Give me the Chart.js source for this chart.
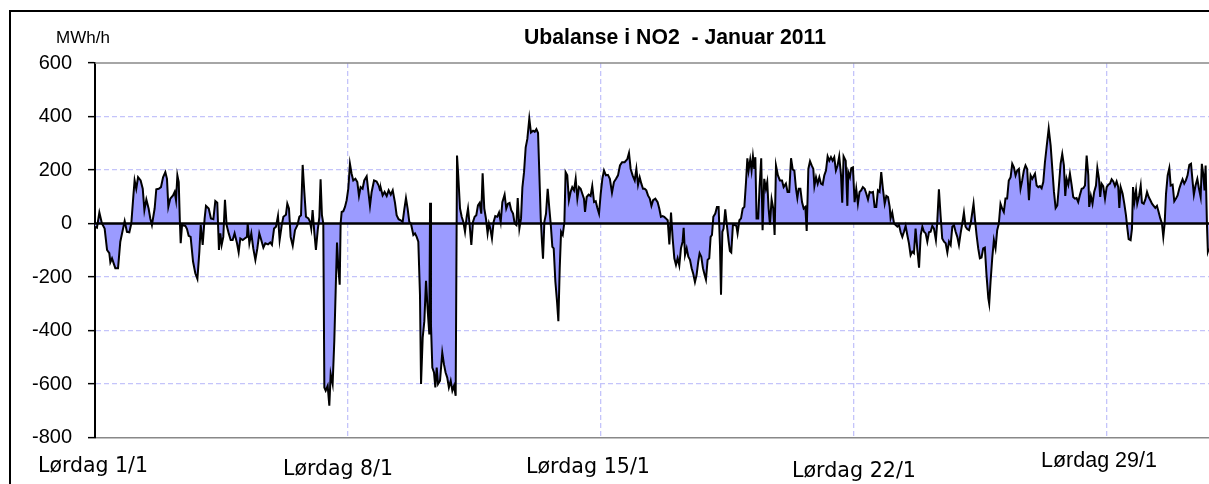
<!DOCTYPE html>
<html><head><meta charset="utf-8">
<script src="https://cdn.jsdelivr.net/npm/chart.js@4.4.1/dist/chart.umd.min.js"></script>
<style>
html,body{margin:0;padding:0;background:#fff;overflow:hidden;width:1209px;height:484px;}
#frame{position:absolute;left:9px;top:10px;width:1300px;height:600px;border:2px solid #000;box-sizing:border-box;}
#c{position:absolute;left:0;top:0;}
</style></head><body>
<div id="frame"></div>
<canvas id="c" width="1226" height="484"></canvas>
<script>
// ---- data (hour of month, MWh/h) ----
const hours = [
0,1.3,2.9,4.6,6.4,8.0,9.5,10.2,11.3,12.4,13.5,15.3,16.8,18.4,19.7,21.2,22.8,24.1,25.5,26.3,27.4,28.6,30.3,31.7,32.8,34.1,35.6,36.7,37.8,39.6,
40.7,42.3,43.8,45.2,46.7,47.8,48.7,50.0,51.8,52.9,53.8,54.7,55.6,56.4,56.9,57.8,60.0,61.1,62.2,63.5,65.1,66.6,68.0,69.3,70.2,71.5,72.8,73.7,75.5,77.0,
78.6,79.9,81.2,82.3,83.2,84.1,85.2,86.3,87.4,88.8,90.1,91.4,92.7,94.3,95.4,96.5,98.1,99.4,100.9,101.4,102.5,103.8,105.1,106.5,107.8,109.1,110.4,111.8,113.1,114.9,
116.4,117.5,118.9,120.2,121.5,122.6,
124.0,125.1,126.8,127.7,128.8,129.9,131.3,132.8,134.4,135.7,136.8,137.9,139.0,140.1,141.7,142.8,143.6,144.5,145.6,146.7,147.9,149.0,149.8,150.7,151.6,
152.3,153.2,154.5,155.6,156.5,157.8,158.9,159.8,160.7,161.6,162.5,163.1,163.8,164.9,166.0,167.1,168.2,169.3,170.4,171.5,172.9,174.2,175.3,176.4,177.7,
178.8,180.4,181.3,182.6,183.7,185.3,187.0,188.4,189.3,189.9,191.0,192.3,193.7,195.0,196.4,197.7,199.2,200.3,201.6,203.0,204.3,205.4,206.5,207.6,208.7,
209.8,211.4,212.5,213.6,214.7,215.8,216.5,217.6,218.7,219.8,220.9,222.0,222.5,223.1,224.0,225.1,226.0,226.9,227.8,229.1,230.6,231.7,232.8,233.9,235.0,
236.2,237.3,238.4,239.5,240.4,241.2,242.4,243.5,244.6,245.7,246.8,
247.7,248.8,249.9,251.0,252.1,253.2,254.3,255.4,256.5,257.4,258.5,259.6,260.7,261.6,262.5,263.6,264.7,265.8,267.1,268.3,269.4,270.5,272.0,273.1,274.2,
275.3,276.4,277.6,278.7,279.8,280.7,281.8,282.9,283.8,284.9,286.0,287.1,288.4,289.5,290.9,292.0,293.1,294.2,295.1,296.0,296.8,297.5,298.4,299.5,300.6,
301.7,302.6,303.7,304.6,305.7,306.8,307.7,308.6,309.5,310.6,311.7,312.5,313.6,314.7,315.8,316.9,318.1,319.2,320.3,321.4,322.5,323.6,324.7,325.4,326.5,
327.8,329.1,330.2,331.4,332.5,333.6,334.7,335.8,336.9,338.0,339.3,340.6,341.9,343.3,344.6,346.0,347.3,348.6,350.0,351.7,353.5,354.6,355.7,357.0,358.4,
359.5,360.6,361.7,362.8,363.9,365.0,366.1,367.2,368.4,369.5,370.6,372.1,
373.6,374.7,375.8,376.9,378.0,379.1,380.3,381.4,382.5,383.6,384.7,385.8,386.9,388.0,389.1,390.2,390.9,391.8,392.9,394.0,395.1,396.2,397.3,398.4,399.5,
400.6,401.5,402.6,403.7,404.8,405.7,406.8,407.9,408.8,409.7,410.6,411.9,413.0,414.1,415.0,415.7,416.6,417.4,418.5,419.6,420.8,421.6,422.5,423.6,424.7,
425.9,426.7,427.9,429.0,430.1,431.2,432.3,433.2,434.0,435.1,436.0,436.9,437.8,438.5,439.3,440.4,441.3,442.4,443.3,444.4,445.5,446.4,447.3,448.2,449.3,
450.4,451.3,452.2,453.5,454.8,456.2,457.3,458.8,459.9,461.0,462.2,463.3,464.4,465.5,466.4,467.3,468.4,469.5,470.6,471.7,472.6,473.7,474.8,475.9,477.0,
477.7,478.8,479.9,481.0,482.1,483.2,484.3,485.4,486.5,487.6,488.7,489.8,490.9,492.0,493.1,494.2,495.4,496.2,497.1,498.5,
499.6,500.2,501.3,502.2,503.3,504.4,505.5,506.6,507.7,508.8,509.9,511.1,512.2,513.3,514.4,515.5,516.6,517.7,518.8,519.9,521.0,522.1,523.2,524.4,525.5,
526.6,527.7,528.3,529.4,530.6,531.7,532.8,533.9,535.0,536.1,537.2,538.3,539.4,540.5,541.6,542.7,543.8,544.9,546.0,547.2,548.3,549.4,550.5,551.6,552.7,
553.8,554.9,556.0,557.1,558.4,559.3,560.4,561.5,562.6,563.8,564.9,566.0,567.1,568.2,569.3,570.4,571.5,572.6,573.7,574.8,575.9,577.0,578.1,579.2,580.4,
581.5,582.6,583.4,584.3,585.4,586.5,587.6,588.7,589.8,590.9,592.0,593.2,593.8,594.7,595.8,596.9,598.0,599.1,600.2,601.3,602.4,603.5,604.6,605.7,606.8,
608.0,609.1,610.2,611.3,612.4,613.5,614.6,615.7,616.8,617.9,619.0,620.2,621.3,622.4,
624.2,625.3,626.4,627.5,628.6,629.7,630.8,631.9,633.3,634.6,635.7,636.8,637.9,639.0,640.1,641.2,642.3,643.4,644.3,645.2,646.3,647.4,648.5,649.6,650.7,
651.8,652.9,654.1,655.2,656.3,657.4,658.5,659.6,660.2,661.3,662.4,663.5,664.7,665.6,666.7,667.5,668.4,669.5,670.7,671.8,672.9,674.0,675.1,676.2,677.3,
678.4,679.5,680.2,681.1,682.4,683.5,684.6,685.5,686.4,687.7,688.6,689.3,690.2,691.3,692.1,693.3,694.4,695.2,696.4,697.5,698.6,699.7,700.8,701.9,703.0,
704.1,705.2,706.3,707.4,708.5,709.4,710.3,711.2,712.3,713.4,714.3,715.6,716.7,717.8,718.9,720.0,721.1,722.2,723.3,724.4,725.5,726.7,727.8,728.9,729.7,
730.8,732.0,733.1,734.2,735.0,735.9,736.8,737.5,738.4,739.0,739.7
];
const values = [
-12,-16,41,0,-19,-99,-111,-145,-130,-149,-167,-167,-68,-25,9,-31,-33,0,105,161,130,173,161,130,50,90,56,19,-6,56,
128,130,136,173,192,167,62,93,105,118,87,180,155,0,-74,-6,-9,-21,-46,-50,-142,-186,-207,-105,-6,-80,19,66,56,19,
16,84,78,-99,-37,-80,-50,89,-6,-37,-62,-62,-37,-74,-108,-56,-62,-56,-50,0,-74,-37,-93,-136,-93,-37,-62,-90,-74,-78,
-71,-80,-19,-12,28,-62,
-6,25,33,74,56,-50,-83,-25,-6,25,31,219,118,25,19,6,-19,50,-31,-99,-25,25,165,31,0,
-613,-625,-607,-681,-563,-600,-440,-254,-71,-167,-229,0,43,46,62,87,130,223,186,161,167,155,103,136,130,
161,176,130,66,118,161,157,142,124,130,105,118,103,124,108,124,78,31,16,12,6,53,95,56,6,
0,-43,-37,-50,-68,-266,-600,-427,-365,-214,-322,-415,78,-378,-539,-557,-613,-539,-600,-588,-483,-526,-557,-576,-613,
-588,-625,-607,-644,254,180,56,25,6,-31,25,
56,-6,-80,6,25,31,68,77,37,188,56,19,-37,0,-19,-56,6,28,25,41,6,80,108,56,74,
77,50,37,0,-6,95,-19,19,134,192,285,316,392,340,347,343,353,338,180,19,-68,-132,6,37,130,
56,0,-87,-93,-217,-291,-365,-167,-31,-43,6,192,180,87,118,136,124,167,93,136,130,111,93,43,99,
108,103,140,80,83,58,37,111,167,198,180,182,167,115,155,167,180,217,229,229,241,264,204,180,161,
204,145,173,149,130,130,124,105,93,66,87,93,
80,56,25,28,25,19,12,-78,41,-56,-130,-155,-130,-157,-93,-68,-16,-118,-93,-124,-136,-167,-189,-219,-192,
-142,-111,-124,-167,-192,-210,-136,-130,-50,-43,25,37,62,62,-80,-266,-31,-19,53,-6,-68,-103,-108,-6,-6,
-9,-37,12,19,56,62,155,244,198,239,198,251,204,248,19,19,136,244,-25,167,130,155,56,-4,90,
56,-43,217,180,161,161,136,149,118,118,244,202,198,130,95,130,130,80,56,62,-28,204,233,217,204,
140,173,149,173,149,145,180,198,251,235,248,235,248,198,217,251,180,78,251,235,
66,192,173,207,210,80,130,74,118,124,136,130,111,90,118,115,118,62,62,124,118,192,130,74,103,
99,62,19,41,0,-6,-12,-6,-33,-50,-31,-9,-43,-74,-118,-105,-111,-19,-93,-165,-43,-12,-31,-37,-68,
-33,-31,-9,-19,-62,6,128,31,-56,-68,-74,-108,-68,-80,-12,-6,-31,-50,-80,-37,0,41,-12,-21,-25,
0,43,74,19,-43,-93,-130,-127,-93,-90,-192,-279,-300,-217,-130,-62,-93,-25,0,74,56,43,93,93,161,
173,223,210,180,198,204,130,161,198,217,204,87,180,167,
186,142,136,140,132,155,229,285,355,291,204,118,58,68,142,223,260,217,103,167,145,186,145,99,93,
95,80,108,130,132,142,254,180,62,103,74,118,142,207,167,99,149,140,93,136,145,149,165,157,140,
157,136,58,136,111,74,31,-16,-58,-62,-19,136,80,124,74,103,142,78,74,90,118,99,87,74,66,
58,66,43,19,0,-50,0,111,180,207,142,145,83,93,105,130,149,165,149,161,180,219,223,155,108,
142,167,130,99,223,186,124,217,-6,-105,-93
];
const yTickValues = [600,400,200,0,-200,-400,-600,-800];
const weekStarts = [0,168,336,504,672];
const xLabels = ['Lørdag 1/1','Lørdag 8/1','Lørdag 15/1','Lørdag 22/1','Lørdag 29/1'];
const titleText = 'Ubalanse i NO2  - Januar 2011';
const unitText = 'MWh/h';

// ---- layout / styling (not data) ----
const labelLayout = [
  {dx:-2,  w:110, base:472, font:'22px "DejaVu Sans"'},
  {dx:-10, w:110, base:475, font:'22px "DejaVu Sans"'},
  {dx:-13, w:124, base:473, font:'22px "DejaVu Sans"'},
  {dx:0,   w:124, base:477, font:'22px "DejaVu Sans"'},
  {dx:-8,  w:116, base:467, font:'22px "Liberation Sans"'}
];
const GRID = '#c4c4fa';

function fitText(ctx, text, font, cx, base, w){
  ctx.font = font;
  const m = ctx.measureText(text).width;
  ctx.save();
  ctx.translate(cx, base);
  ctx.scale(w / m, 1);
  ctx.textAlign = 'left';
  ctx.textBaseline = 'alphabetic';
  ctx.fillStyle = '#000';
  ctx.fillText(text, -m / 2, 0);
  ctx.restore();
}

const decor = {
  id: 'decor',
  afterDatasetsDraw(chart){
    const {ctx, chartArea: a, scales: {y}} = chart;
    ctx.save();
    ctx.lineCap = 'butt';
    ctx.strokeStyle = '#000';
    ctx.lineWidth = 2.5;
    const y0 = y.getPixelForValue(0);
    ctx.beginPath(); ctx.moveTo(a.left, y0); ctx.lineTo(a.right, y0); ctx.stroke();
    ctx.strokeStyle = '#888';
    ctx.lineWidth = 1.5;
    ctx.beginPath(); ctx.moveTo(a.left, a.top); ctx.lineTo(a.right, a.top); ctx.stroke();
    ctx.restore();
  },
  afterDraw(chart){
    const {ctx, scales: {x}} = chart;
    ctx.save();
    // unit label
    ctx.font = '17px "Liberation Sans", Arial';
    ctx.fillStyle = '#000';
    ctx.textAlign = 'left';
    ctx.textBaseline = 'alphabetic';
    ctx.fillText(unitText, 56, 43);
    // title
    fitText(ctx, titleText, 'bold 22px "Liberation Sans", Arial', 675, 44, 302);
    // week labels
    xLabels.forEach((t, i) => {
      const L = labelLayout[i];
      fitText(ctx, t, L.font, x.getPixelForValue(weekStarts[i]) + L.dx, L.base, L.w);
    });
    ctx.restore();
  }
};

new Chart(document.getElementById('c'), {
  type: 'line',
  data: {
    datasets: [{
      data: hours.map((h, i) => ({x: h, y: values[i]})),
      borderColor: '#000',
      borderWidth: 2,
      backgroundColor: '#9b9bff',
      fill: {target: 'origin', above: '#9b9bff', below: '#9b9bff'},
      pointRadius: 0,
      tension: 0
    }]
  },
  options: {
    responsive: false,
    animation: false,
    devicePixelRatio: 1,
    layout: {padding: {left: 0, top: 63, right: 10.6, bottom: 0}},
    plugins: {legend: {display: false}, tooltip: {enabled: false}, title: {display: false}},
    scales: {
      x: {
        type: 'linear', min: 0, max: 744,
        afterBuildTicks: s => { s.ticks = weekStarts.slice(1).map(v => ({value: v})); },
        afterFit: s => { s.height = 46.5; },
        ticks: {display: false},
        grid: {color: GRID, lineWidth: 1.3, drawTicks: false},
        border: {display: true, color: '#888', width: 1.5, dash: [5, 3]}
      },
      y: {
        min: -800, max: 600,
        afterBuildTicks: s => { s.ticks = yTickValues.map(v => ({value: v})); },
        afterFit: s => { s.width = 95; },
        ticks: {color: '#000', padding: 16, font: {family: '"Liberation Sans", Arial', size: 20}, autoSkip: false},
        grid: {
          color: c => (c.tick && (c.tick.value === 0 || c.tick.value === 600 || c.tick.value === -800)) ? 'rgba(0,0,0,0)' : GRID,
          lineWidth: 1.3,
          tickLength: 7, tickColor: '#000', tickWidth: 1.5
        },
        border: {display: true, color: '#000', width: 2, dash: [5, 3]}
      }
    }
  },
  plugins: [decor]
});
</script>
</body></html>
